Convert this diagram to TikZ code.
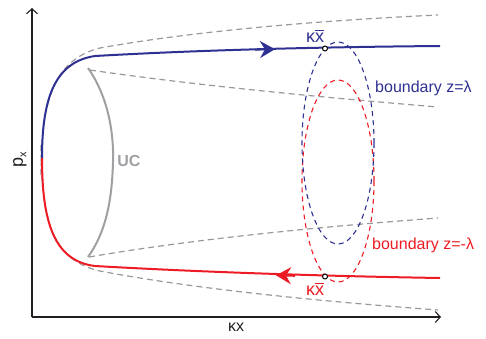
\documentclass[tikz,border=0pt]{standalone}
\usepackage{fontspec}
\setmainfont{Liberation Sans}
\usetikzlibrary{arrows.meta}
\definecolor{myblue}{HTML}{2E3192}
\definecolor{myred}{HTML}{ED1C24}
\definecolor{mygray}{HTML}{999999}
\definecolor{ucgray}{HTML}{A0A0A4}
\definecolor{axisblack}{HTML}{231F20}
\newcommand\xbarr{\leavevmode\rlap{\raisebox{1.2ex}{\rule{0.5em}{0.07em}}}x}
\tikzset{
  axisline/.style={draw=axisblack, line width=1.1pt, -{Straight Barb[length=5pt,width=11pt,line width=1.1pt]}},
  guide/.style={draw=mygray, line width=1.2pt, dash pattern=on 6pt off 4pt},
  orbitblue/.style={draw=myblue, line width=2pt},
  orbitred/.style={draw=myred, line width=2pt},
  bnd/.style={line width=1.1pt, dash pattern=on 5pt off 4pt},
  lab/.style={inner sep=0pt, font=\fontsize{16}{18}\selectfont},
  dot/.style={circle, draw=black, fill=white, line width=1pt, inner sep=0pt, minimum size=5pt},
  orbitarrow/.style={line width=2pt, -{Stealth[length=15pt,width=17pt,inset=5pt]}},
}
\begin{document}
\begin{tikzpicture}[x=1pt,y=-1pt]
\useasboundingbox (0,0) rectangle (486,338);
% axes
\coordinate (O) at (32,317);
\coordinate (ytop) at (32,8);
\coordinate (xend) at (441,317);
\draw[axisline] (O) -- (ytop);
\draw[axisline] (O) -- (xend);
% guide dashed curves
\draw[guide] (41,175) .. controls (41,105) and (52,60) .. (100,48) .. controls (200,30) and (330,20) .. (438,15);
\draw[guide] (41,145) .. controls (41,220) and (52,260) .. (100,271) .. controls (200,290) and (330,302) .. (438,310);
\draw[guide] (90,70) .. controls (200,86) and (330,98) .. (438,107);
\draw[guide] (89,257) .. controls (200,238) and (330,226) .. (438,218);
% UC arc
\draw[draw=ucgray, line width=2pt] (88,68) .. controls (107,95) and (114,130) .. (113,162) .. controls (112,200) and (106,232) .. (88,257);
\node[lab, font=\fontsize{16}{18}\selectfont\bfseries, text=ucgray] (uc) at (129,161) {UC};
% boundary ellipses
\draw[bnd, draw=myred] (338,181) ellipse [x radius=36, y radius=101];
\draw[bnd, draw=myblue] (338,143) ellipse [x radius=36, y radius=101];
% orbits
\coordinate (start) at (42,158);
\draw[orbitblue] (start) .. controls (42,100) and (54,62) .. (95,56) .. controls (200,50) and (320,47) .. (440,46);
\draw[orbitred] (start) .. controls (42,222) and (54,261) .. (95,266) .. controls (200,272) and (320,276) .. (440,278);
% arrows on orbits
\coordinate (ba) at (255,49.6);
\coordinate (bb) at (275,49.2);
\draw[draw=myblue, fill=myblue, orbitarrow] (ba) -- (bb);
\coordinate (ra) at (295,275.8);
\coordinate (rb) at (276,275.3);
\draw[draw=myred, fill=myred, orbitarrow] (ra) -- (rb);
% crossing points
\node[dot] (pb) at (325,48.5) {};
\node[dot] (pr) at (325,276.5) {};
% labels
\node[lab, font=\fontsize{18}{20}\selectfont, text=myblue] (kb) at (315,36) {κ\xbarr};
\node[lab, font=\fontsize{18}{20}\selectfont, text=myred] (kr) at (315,289) {κ\xbarr};
\node[lab, text=myblue, anchor=west] (lb) at (375,88) {boundary z=λ};
\node[lab, text=myred, anchor=west] (lr) at (372,245) {boundary z=-λ};
\node[lab, text=axisblack] (kx) at (236,327) {κx};
\node[lab, font=\fontsize{18}{20}\selectfont, text=axisblack, rotate=90] (px) at (20,160) {p\raisebox{-0.35ex}{\fontsize{11}{11}\selectfont x}};
\end{tikzpicture}
\end{document}
